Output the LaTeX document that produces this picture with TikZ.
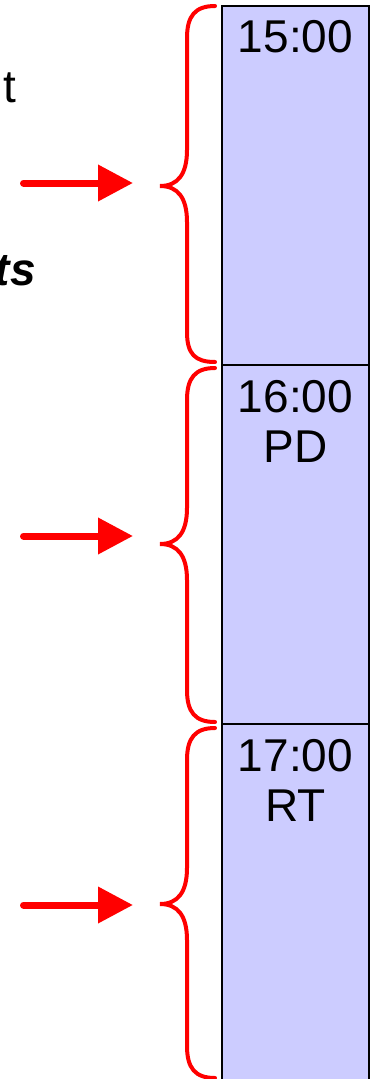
\documentclass[tikz,border=0pt]{standalone}
\usepackage{fontspec}
\setmainfont{Liberation Sans}
\usetikzlibrary{arrows.meta}
\definecolor{boxfill}{HTML}{CCCCFF}
\begin{document}
\begin{tikzpicture}[x=1pt,y=-1pt,
  slot/.style={draw=black,line width=2.5pt,fill=boxfill,minimum width=147pt,inner sep=0pt,outer sep=0pt,anchor=north west},
  lbl/.style={font=\fontsize{46}{50}\selectfont,inner sep=0pt,anchor=base},
  bracepath/.style={draw=red,line width=4pt,line cap=round},
  redarrow/.style={draw=red,line width=7pt,line cap=round,-{Triangle[length=35pt,width=35pt]}}]
\useasboundingbox (0,0) rectangle (375,1079);
% boxes
\node[slot,minimum height=359pt] (b1) at (222,6) {};
\node[slot,minimum height=359pt] (b2) at (222,365) {};
\node[slot,minimum height=380pt] (b3) at (222,724) {};
% labels
\node[lbl] (t1) at (295.5,52) {15:00};
\node[lbl] (t2) at (295.5,412) {16:00};
\node[lbl] (c2) at (295.5,462) {PD};
\node[lbl] (t3) at (295.5,771) {17:00};
\node[lbl] (c3) at (295.5,821) {RT};
% left texts
\node[lbl,anchor=base east] (w1) at (16,102) {t};
\node[lbl,anchor=base east] (w2) at (36,285) {\textbf{\textit{ts}}};
% braces
\draw[bracepath] (215,6) .. controls (195,6) and (187,16) .. (187,38) -- (187,150)
  .. controls (187,174) and (178,186) .. (160,186)
  .. controls (178,186) and (187,198) .. (187,222) -- (187,332)
  .. controls (187,354) and (195,362) .. (215,362);
\draw[bracepath] (215,368) .. controls (195,368) and (187,378) .. (187,400) -- (187,508)
  .. controls (187,532) and (178,544) .. (160,544)
  .. controls (178,544) and (187,556) .. (187,580) -- (187,690)
  .. controls (187,712) and (195,722) .. (215,722);
\draw[bracepath] (215,728) .. controls (195,728) and (187,738) .. (187,760) -- (187,868)
  .. controls (187,892) and (178,904) .. (160,904)
  .. controls (178,904) and (187,916) .. (187,940) -- (187,1046)
  .. controls (187,1068) and (195,1078) .. (215,1078);
% arrows
\coordinate (s1) at (23.5,183); \coordinate (e1) at (133,183);
\coordinate (s2) at (23.5,536); \coordinate (e2) at (133,536);
\coordinate (s3) at (23.5,905); \coordinate (e3) at (133,905);
\draw[redarrow] (s1) -- (e1);
\draw[redarrow] (s2) -- (e2);
\draw[redarrow] (s3) -- (e3);
\end{tikzpicture}
\end{document}
